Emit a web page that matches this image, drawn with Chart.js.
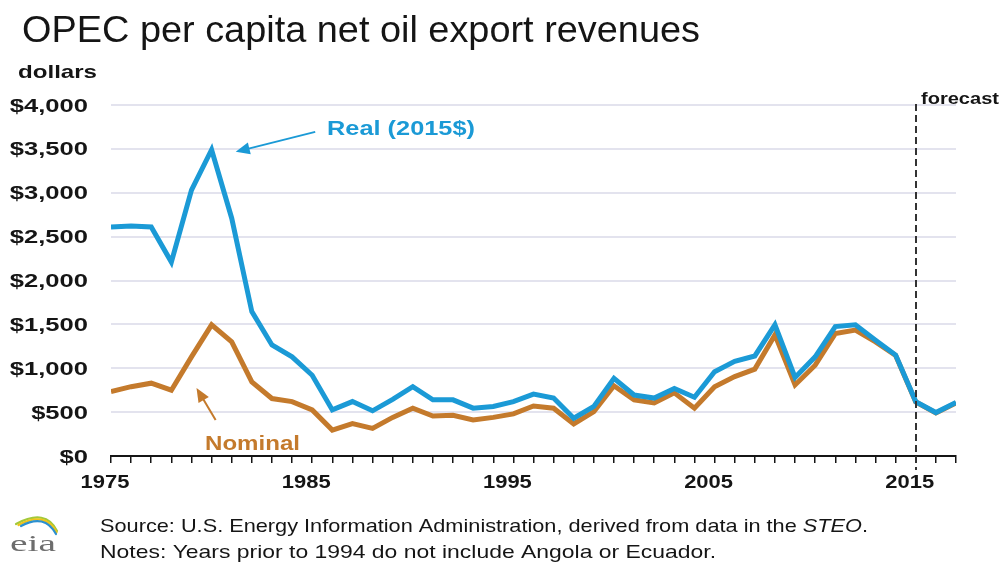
<!DOCTYPE html>
<html>
<head>
<meta charset="utf-8">
<title>OPEC per capita net oil export revenues</title>
<script src="https://cdn.jsdelivr.net/npm/chart.js@4.4.1/dist/chart.umd.min.js"></script>
<style>
  html, body { margin: 0; padding: 0; background: #fff; }
  canvas { display: block; }
</style>
</head>
<body>
<canvas id="chart" width="1006" height="567"></canvas>
<script>
// anos (eixo x) e receitas per capita em dólares
const years = [];
for (let y = 1975; y <= 2017; y++) years.push(y);

const realValues = [
  2610, 2620, 2610, 2210, 3030, 3490, 2710, 1645, 1265, 1130,
  920, 525, 620, 515, 645, 790, 640, 640, 545, 565,
  620, 705, 660, 430, 565, 885, 695, 660, 770, 670,
  960, 1080, 1140, 1495, 895, 1130, 1475, 1495, 1320, 1150,
  620, 495, 610
];
const nominalValues = [
  735, 790, 830, 750, 1130, 1495, 1300, 845, 655, 620,
  525, 295, 370, 315, 440, 545, 455, 465, 410, 440,
  480, 570, 545, 365, 505, 800, 640, 605, 720, 545,
  790, 905, 990, 1380, 810, 1035, 1395, 1435, 1300, 1145,
  615, 490, 605
];
const yearLabels = [1975, 1985, 1995, 2005, 2015];
const forecastYear = 2015;

// cores
const blue = "#1b9ad6";
const brown = "#c47a2c";
const gridColor = "#e3e3ee";
const ink = "#151515";

const toPoints = vals => vals.map((v, i) => ({ x: years[i], y: v }));

// texto esticado na horizontal (sx) com alinhamento
function wideText(ctx, text, x, y, font, color, sx, align) {
  ctx.save();
  ctx.font = font;
  ctx.fillStyle = color;
  ctx.textBaseline = "alphabetic";
  ctx.textAlign = "left";
  const w = ctx.measureText(text).width * sx;
  let x0 = x;
  if (align === "right") x0 = x - w;
  if (align === "center") x0 = x - w / 2;
  ctx.translate(x0, y);
  ctx.scale(sx, 1);
  ctx.fillText(text, 0, 0);
  ctx.restore();
}

// texto esticado para caber numa largura fixa
function fitText(ctx, text, x, y, font, color, width) {
  ctx.save();
  ctx.font = font;
  const sx = width / ctx.measureText(text).width;
  ctx.restore();
  wideText(ctx, text, x, y, font, color, sx, "left");
}

function arrow(ctx, x1, y1, x2, y2, color) {
  const a = Math.atan2(y2 - y1, x2 - x1);
  const len = 14, half = 6;
  ctx.save();
  ctx.strokeStyle = color;
  ctx.fillStyle = color;
  ctx.lineWidth = 2;
  ctx.beginPath();
  ctx.moveTo(x1, y1);
  ctx.lineTo(x2 - Math.cos(a) * len * 0.8, y2 - Math.sin(a) * len * 0.8);
  ctx.stroke();
  ctx.beginPath();
  ctx.moveTo(x2, y2);
  ctx.lineTo(x2 - Math.cos(a) * len + Math.sin(a) * half, y2 - Math.sin(a) * len - Math.cos(a) * half);
  ctx.lineTo(x2 - Math.cos(a) * len - Math.sin(a) * half, y2 - Math.sin(a) * len + Math.cos(a) * half);
  ctx.closePath();
  ctx.fill();
  ctx.restore();
}

// rótulos dos eixos desenhados a partir das escalas (fonte larga)
const axisLabels = {
  id: "axisLabels",
  afterDraw(chart) {
    const ctx = chart.ctx;
    const xs = chart.scales.x, ys = chart.scales.y;
    const labelFont = "bold 18px 'Liberation Sans'";
    ys.ticks.forEach(t => {
      const py = ys.getPixelForValue(t.value);
      wideText(ctx, "$" + t.value.toLocaleString("en-US"), 88, py + 6.5, labelFont, ink, 1.42, "right");
    });
    yearLabels.forEach(yr => {
      const px = xs.getPixelForValue(yr);
      wideText(ctx, String(yr), px - 6, 488, labelFont, ink, 1.22, "center");
    });
  }
};

// título, anotações, linha de previsão e rodapé
const decorations = {
  id: "decorations",
  afterDatasetsDraw(chart) {
    const ctx = chart.ctx;
    const xs = chart.scales.x, ys = chart.scales.y;
    const area = chart.chartArea;

    // linha tracejada da previsão
    const fx = Math.round(xs.getPixelForValue(forecastYear));
    ctx.save();
    ctx.strokeStyle = "#333";
    ctx.lineWidth = 2;
    ctx.setLineDash([7, 4]);
    ctx.beginPath();
    ctx.moveTo(fx, area.top - 1);
    ctx.lineTo(fx, area.bottom + 14);
    ctx.stroke();
    ctx.restore();

    arrow(ctx, xs.getPixelForValue(1985.15), ys.getPixelForValue(3694),
               xs.getPixelForValue(1981.2), ys.getPixelForValue(3466), blue);
    arrow(ctx, xs.getPixelForValue(1980.2), ys.getPixelForValue(410),
               xs.getPixelForValue(1979.25), ys.getPixelForValue(775), brown);
  },
  afterDraw(chart) {
    const ctx = chart.ctx;
    fitText(ctx, "OPEC per capita net oil export revenues", 22, 42, "36px 'Liberation Sans'", ink, 678);
    fitText(ctx, "dollars", 18, 78, "bold 19px 'Liberation Sans'", ink, 79);
    fitText(ctx, "forecast", 921, 104, "bold 17px 'Liberation Sans'", ink, 78);
    fitText(ctx, "Real (2015$)", 327, 135, "bold 21px 'Liberation Sans'", blue, 148);
    fitText(ctx, "Nominal", 205, 450, "bold 21px 'Liberation Sans'", brown, 95);

    // rodapé (STEO em itálico)
    ctx.save();
    const font = "19px 'Liberation Sans'";
    const italic = "italic 19px 'Liberation Sans'";
    const part1 = "Source: U.S. Energy Information Administration, derived from data in the ";
    ctx.font = font;
    const w1 = ctx.measureText(part1).width;
    const wDot = ctx.measureText(".").width;
    ctx.font = italic;
    const wSteo = ctx.measureText("STEO").width;
    const sx = 768 / (w1 + wSteo + wDot);
    ctx.translate(100, 532);
    ctx.scale(sx, 1);
    ctx.fillStyle = ink;
    ctx.font = font;
    ctx.fillText(part1, 0, 0);
    ctx.font = italic;
    ctx.fillText("STEO", w1, 0);
    ctx.font = font;
    ctx.fillText(".", w1 + wSteo, 0);
    ctx.restore();
    fitText(ctx, "Notes: Years prior to 1994 do not include Angola or Ecuador.", 100, 558, font, ink, 616);

    // logotipo eia: arcos sobre o texto
    ctx.save();
    ctx.lineWidth = 2.2;
    ctx.lineCap = "round";
    [["#a3c93a", 0], ["#f0c419", 2.5], ["#2b90d0", 5]].forEach(([c, o]) => {
      ctx.strokeStyle = c;
      ctx.beginPath();
      ctx.moveTo(16 + o, 524 + o * 0.4);
      ctx.quadraticCurveTo(46 - o * 0.3, 508 + o, 57 - o * 0.2, 531 + o * 0.6);
      ctx.stroke();
    });
    ctx.restore();
    fitText(ctx, "eia", 10, 551, "24px 'Liberation Serif'", "#6d6d6d", 46);
  }
};

const ctx = document.getElementById("chart").getContext("2d");
new Chart(ctx, {
  type: "line",
  data: {
    datasets: [
      {
        label: "Real (2015$)",
        data: toPoints(realValues),
        borderColor: blue,
        borderWidth: 5,
        pointRadius: 0,
        tension: 0,
        order: 1
      },
      {
        label: "Nominal",
        data: toPoints(nominalValues),
        borderColor: brown,
        borderWidth: 5,
        pointRadius: 0,
        tension: 0,
        order: 2
      }
    ]
  },
  options: {
    responsive: false,
    animation: false,
    events: [],
    layout: { padding: { top: 105, right: 50, left: 0, bottom: 0 } },
    plugins: { legend: { display: false }, tooltip: { enabled: false } },
    scales: {
      x: {
        type: "linear",
        min: 1975,
        max: 2017,
        afterFit: s => { s.height = 111; },
        grid: { drawOnChartArea: false, drawTicks: true, tickLength: 7, color: ink, lineWidth: 1.5 },
        border: { display: true, color: ink, width: 2 },
        ticks: { stepSize: 1, autoSkip: false, maxRotation: 0, display: false }
      },
      y: {
        min: 0,
        max: 4000,
        afterFit: s => { s.width = 111; },
        grid: { color: gridColor, lineWidth: 2, drawTicks: false },
        border: { display: false },
        ticks: { stepSize: 500, display: false }
      }
    }
  },
  plugins: [decorations, axisLabels]
});
</script>
</body>
</html>
